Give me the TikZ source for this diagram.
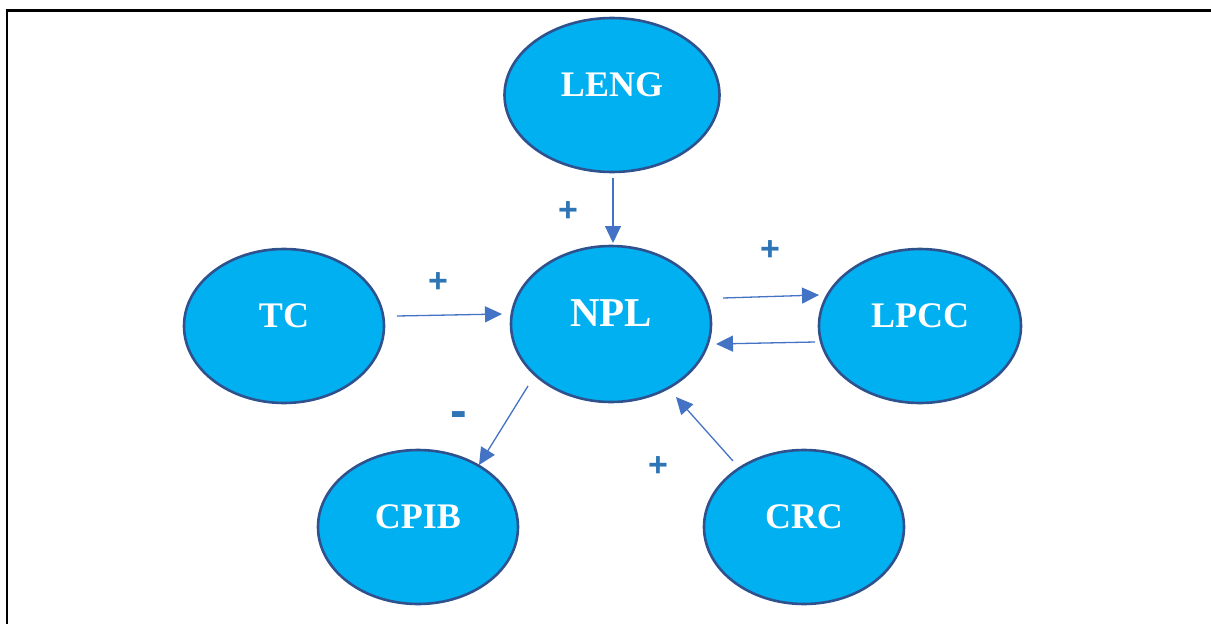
\documentclass[tikz,border=0pt]{standalone}
\usepackage{fontspec}
\setmainfont{Liberation Serif}
\newfontfamily\signfont{Liberation Sans}
\usetikzlibrary{shapes.geometric,arrows.meta}

\definecolor{bubble}{HTML}{00B0F0}
\definecolor{bubbleline}{HTML}{2F528F}
\definecolor{arrowblue}{HTML}{4472C4}
\definecolor{signblue}{HTML}{2E75B6}

\tikzset{
  factor/.style={ellipse, draw=bubbleline, line width=2.6pt, fill=bubble, text=white,
    inner sep=0pt, minimum width=200pt, minimum height=154pt, text depth=20pt,
    font=\fontsize{36}{36}\selectfont\bfseries},
  influence/.style={-{Triangle[length=17pt,width=16pt]}, draw=arrowblue, line width=1.3pt},
  effect/.style={text=signblue, inner sep=0pt, font=\signfont\fontsize{34}{34}\selectfont\bfseries}
}

\begin{document}
\begin{tikzpicture}[x=1pt, y=-1pt]
  \useasboundingbox (0,0) rectangle (1211,624);
  \draw[line width=2.5pt] (7,624) -- (7,10.5) -- (1211,10.5);

  \node[factor, minimum width=215pt] (leng) at (612, 95) {LENG};
  \node[factor, minimum height=156pt, text depth=22pt, font=\fontsize{41}{41}\selectfont\bfseries] (npl) at (611, 324) {NPL};
  \node[factor] (tc) at (284, 326) {TC};
  \node[factor, minimum width=202pt] (lpcc) at (920, 326) {LPCC};
  \node[factor] (cpib) at (418, 527) {CPIB};
  \node[factor] (crc) at (804, 527) {CRC};

  \draw[influence] ([shift={(1,83)}]leng.center) -- ([shift={(2,-81)}]npl.center);
  \draw[influence] ([shift={(113,-10)}]tc.center) -- ([shift={(-109,-10)}]npl.center);
  \draw[influence] ([shift={(112,-26)}]npl.center) -- ([shift={(-101,-31)}]lpcc.center);
  \draw[influence] ([shift={(-105,16)}]lpcc.center) -- ([shift={(105,20)}]npl.center);
  \draw[influence] ([shift={(-83,62)}]npl.center) -- ([shift={(61,-62)}]cpib.center);
  \draw[influence] ([shift={(-71,-66)}]crc.center) -- ([shift={(65,73)}]npl.center);

  \node[effect] (lengsign) at (568, 212) {+};
  \node[effect] (tcsign) at (438, 283) {+};
  \node[effect] (lpccsign) at (770, 251) {+};
  \node[effect] (crcsign) at (658, 467) {+};
  \node[effect, font=\signfont\fontsize{50}{50}\selectfont\bfseries] (cpibsign) at (459, 420) {-};
\end{tikzpicture}
\end{document}
